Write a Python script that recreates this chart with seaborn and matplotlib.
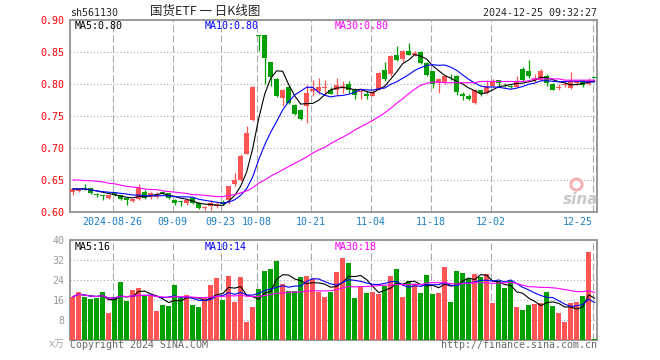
import numpy as np
import pandas as pd
import matplotlib
matplotlib.use("Agg")
import matplotlib.pyplot as plt
import seaborn as sns

W, H = 660, 360

# daily candles, index 0 = 2024-08-15 ... index 87 = 2024-12-25
opens = [0.632, 0.633, 0.637, 0.638, 0.628, 0.626, 0.622, 0.630, 0.626, 0.622,
         0.617, 0.620, 0.632, 0.624, 0.623, 0.632, 0.630, 0.619, 0.617, 0.614,
         0.622, 0.614, 0.606, 0.609, 0.609, 0.616, 0.619, 0.643, 0.650, 0.691,
         0.743, 0.876, 0.876, 0.835, 0.808, 0.778, 0.795, 0.767, 0.760, 0.765,
         0.789, 0.789, 0.794, 0.790, 0.791, 0.795, 0.800, 0.791, 0.788, 0.784,
         0.782, 0.791, 0.822, 0.815, 0.846, 0.839, 0.852, 0.846, 0.850, 0.833,
         0.820, 0.802, 0.803, 0.813, 0.812, 0.785, 0.782, 0.771, 0.790, 0.786,
         0.797, 0.806, 0.799, 0.797, 0.796, 0.824, 0.821, 0.806, 0.807, 0.813,
         0.800, 0.793, 0.798, 0.794, 0.801, 0.806, 0.800, 0.810]
highs = [0.637, 0.636, 0.643, 0.638, 0.630, 0.626, 0.627, 0.631, 0.626, 0.622,
         0.621, 0.643, 0.634, 0.632, 0.632, 0.633, 0.630, 0.620, 0.617, 0.620,
         0.623, 0.615, 0.609, 0.619, 0.616, 0.619, 0.641, 0.661, 0.691, 0.735,
         0.797, 0.876, 0.876, 0.835, 0.809, 0.792, 0.798, 0.768, 0.761, 0.799,
         0.807, 0.809, 0.807, 0.795, 0.810, 0.805, 0.804, 0.793, 0.794, 0.789,
         0.791, 0.818, 0.835, 0.845, 0.860, 0.853, 0.864, 0.851, 0.851, 0.834,
         0.821, 0.809, 0.813, 0.815, 0.814, 0.788, 0.785, 0.792, 0.791, 0.807,
         0.808, 0.807, 0.801, 0.798, 0.812, 0.826, 0.838, 0.816, 0.823, 0.815,
         0.802, 0.800, 0.804, 0.818, 0.806, 0.807, 0.809, 0.810]
lows = [0.627, 0.631, 0.634, 0.628, 0.624, 0.619, 0.620, 0.625, 0.619, 0.611,
        0.615, 0.619, 0.620, 0.620, 0.622, 0.628, 0.620, 0.611, 0.609, 0.611,
        0.612, 0.605, 0.603, 0.603, 0.607, 0.611, 0.612, 0.641, 0.649, 0.690,
        0.742, 0.852, 0.800, 0.797, 0.780, 0.765, 0.768, 0.752, 0.744, 0.739,
        0.781, 0.785, 0.785, 0.784, 0.783, 0.786, 0.786, 0.777, 0.777, 0.776,
        0.781, 0.790, 0.804, 0.812, 0.836, 0.834, 0.845, 0.843, 0.831, 0.812,
        0.793, 0.786, 0.800, 0.807, 0.783, 0.775, 0.775, 0.768, 0.781, 0.784,
        0.795, 0.797, 0.796, 0.794, 0.795, 0.804, 0.810, 0.803, 0.804, 0.797,
        0.790, 0.791, 0.795, 0.792, 0.799, 0.796, 0.799, 0.809]
closes = [0.636, 0.636, 0.636, 0.630, 0.627, 0.6255, 0.626, 0.626, 0.620, 0.618,
          0.620, 0.638, 0.622, 0.630, 0.627, 0.629, 0.622, 0.614, 0.616, 0.619,
          0.614, 0.606, 0.6065, 0.614, 0.612, 0.613, 0.640, 0.650, 0.687, 0.724,
          0.795, 0.875, 0.840, 0.811, 0.782, 0.791, 0.771, 0.753, 0.746, 0.786,
          0.792, 0.796, 0.796, 0.785, 0.799, 0.797, 0.790, 0.783, 0.789, 0.781,
          0.788, 0.817, 0.808, 0.844, 0.838, 0.852, 0.846, 0.849, 0.833, 0.814,
          0.800, 0.808, 0.812, 0.812, 0.787, 0.781, 0.777, 0.791, 0.786, 0.797,
          0.803, 0.802, 0.798, 0.796, 0.805, 0.806, 0.812, 0.809, 0.821, 0.801,
          0.791, 0.796, 0.800, 0.805, 0.804, 0.798, 0.807, 0.809]
# volume, 万
volumes = [17.3, 19.3, 17.3, 16.4, 16.7, 19.3, 10.9, 17.3, 23.3, 15.6,
           20.0, 20.9, 18.0, 17.7, 11.6, 14.0, 13.6, 22.0, 16.9, 18.0,
           14.0, 13.2, 16.7, 22.0, 24.9, 16.0, 25.6, 15.3, 25.1, 7.3,
           13.3, 20.4, 27.6, 28.5, 31.7, 22.4, 19.7, 19.7, 25.3, 25.6,
           24.4, 19.1, 17.3, 19.1, 27.3, 32.7, 30.9, 16.9, 21.3, 18.9,
           19.3, 18.4, 21.6, 25.7, 28.5, 17.3, 23.6, 22.4, 18.9, 26.0,
           18.4, 18.9, 29.3, 15.3, 27.6, 26.9, 24.7, 26.4, 25.1, 26.4,
           14.9, 23.6, 20.9, 23.6, 13.3, 12.0, 14.0, 14.4, 14.9, 19.3,
           13.7, 10.9, 7.3, 14.9, 15.1, 17.7, 35.3, 0.4]
# MA30 of price as drawn (needs history before the window)
ma30_price = [0.650, 0.650, 0.649, 0.649, 0.648, 0.647, 0.645, 0.644, 0.642, 0.640,
              0.639, 0.638, 0.636, 0.635, 0.635, 0.633, 0.632, 0.631, 0.630, 0.629,
              0.627, 0.627, 0.626, 0.625, 0.624, 0.624, 0.626, 0.627, 0.630, 0.633,
              0.638, 0.645, 0.650, 0.656, 0.661, 0.666, 0.671, 0.676, 0.681, 0.686,
              0.692, 0.697, 0.701, 0.707, 0.712, 0.717, 0.722, 0.728, 0.733, 0.738,
              0.743, 0.749, 0.755, 0.762, 0.770, 0.777, 0.785, 0.792, 0.798, 0.801,
              0.803, 0.803, 0.802, 0.802, 0.802, 0.802, 0.802, 0.802, 0.804, 0.804,
              0.804, 0.804, 0.804, 0.804, 0.804, 0.804, 0.805, 0.808, 0.808, 0.808,
              0.808, 0.808, 0.806, 0.806, 0.806, 0.806, 0.806, 0.806]

tick_idx = [7, 17, 25, 31, 40, 50, 60, 70, 87]
tick_labels = ['2024-08-26', '09-09', '09-23', '10-08', '10-21',
               '11-04', '11-18', '12-02', '12-25']
price_ticks = [0.60, 0.65, 0.70, 0.75, 0.80, 0.85, 0.90]
vol_ticks = [8, 16, 24, 32, 40]

RED = '#ff5555'
GREEN = '#00a000'
MA_COLORS = ['black', '#0000ff', '#ff00ff']
GRID = '#aaaaaa'
MONO = 7.2

sns.set_style('white')
plt.rcParams['font.family'] = ['DejaVu Sans Mono', 'Noto Sans CJK SC']

df = pd.DataFrame({'open': opens, 'high': highs, 'low': lows,
                   'close': closes, 'vol': volumes, 'ma30': ma30_price})
df['ma5'] = df['close'].rolling(5, min_periods=1).mean()
df['ma10'] = df['close'].rolling(10, min_periods=1).mean()
df['vma5'] = df['vol'].rolling(5, min_periods=1).mean()
df['vma10'] = df['vol'].rolling(10, min_periods=1).mean()
df['vma30'] = df['vol'].rolling(30, min_periods=1).mean()
df['i'] = np.arange(len(df))
colors = np.where(df['close'] >= df['open'], RED, GREEN)

fig = plt.figure(figsize=(W / 100, H / 100), dpi=100)
ax = fig.add_axes([70 / W, 1 - 212 / H, 527 / W, 192 / H])
vax = fig.add_axes([70 / W, 1 - 340 / H, 527 / W, 100 / H])

xlim = (-0.45, 87.38)
grid_x = [t - 0.35 for t in tick_idx]


def style_axes(a):
    a.set_xlim(*xlim)
    a.set_axisbelow(True)
    for s in a.spines.values():
        s.set_color('#999999')
        s.set_linewidth(1.4)
    a.grid(axis='x', color=GRID, linestyle=(0, (6.3, 2.7)), linewidth=0.8)
    a.grid(axis='y', color=GRID, linestyle=(0, (1, 2)), linewidth=0.8)
    a.tick_params(length=0, labelsize=MONO)


# price panel
body = (df['close'] - df['open']).abs().clip(lower=0.0012)
ax.vlines(df['i'], df['low'], df['high'], colors=colors, linewidth=0.9, zorder=3)
ax.bar(df['i'], body, bottom=np.minimum(df['open'], df['close']),
       width=0.78, color=colors, linewidth=0, zorder=3)
for col, c in zip(['ma5', 'ma10', 'ma30'], MA_COLORS):
    sns.lineplot(data=df, x='i', y=col, ax=ax, color=c, linewidth=0.8,
                 legend=False, zorder=4)
ax.set_ylim(0.60, 0.90)
ax.set_yticks(price_ticks, [f'{v:.2f}' for v in price_ticks])
ax.set_xticks(grid_x, tick_labels)
style_axes(ax)
ax.tick_params(axis='y', labelcolor='#ff0000', pad=4)
ax.tick_params(axis='x', labelcolor='#1a7fc8', pad=3.5)
ax.get_xticklabels()[-1].set_ha('right')
ax.set_xlabel('')
ax.set_ylabel('')

# volume panel
vax.bar(df['i'], df['vol'], width=0.85, color=colors, linewidth=0, zorder=3)
for col, c in zip(['vma5', 'vma10', 'vma30'], MA_COLORS):
    sns.lineplot(data=df, x='i', y=col, ax=vax, color=c, linewidth=0.8,
                 legend=False, zorder=4)
vax.set_ylim(0, 40)
vax.set_yticks(vol_ticks, [str(v) for v in vol_ticks])
vax.set_xticks(grid_x, [''] * len(grid_x))
style_axes(vax)
vax.tick_params(axis='y', labelcolor='#999999', pad=4)
vax.set_xlabel('')
vax.set_ylabel('')


def ftext(x, y, s, **kw):
    kw.setdefault('fontsize', MONO)
    fig.text(x / W, 1 - y / H, s, va='center', **kw)


ftext(70, 13.5, 'sh561130')
ftext(150, 11.5, '国货ETF 一 日K线图', fontsize=9,
      family=['Noto Sans CJK SC', 'DejaVu Sans'])
ftext(597, 13, '2024-12-25 09:32:27', ha='right')

ftext(75, 26, 'MA5:0.80', color=MA_COLORS[0])
ftext(205, 26, 'MA10:0.80', color=MA_COLORS[1])
ftext(335, 26, 'MA30:0.80', color=MA_COLORS[2])

ftext(75, 247, 'MA5:16', color=MA_COLORS[0])
ftext(205, 247, 'MA10:14', color=MA_COLORS[1])
ftext(335, 247, 'MA30:18', color=MA_COLORS[2])

ftext(65, 344, 'x万', ha='right', color='#aaaaaa')
ftext(70, 345, 'Copyright 2024 SINA.COM', color='#666666')
ftext(597, 345, 'http://finance.sina.com.cn', ha='right', color='#666666')

# sina watermark
ax.plot([576 / W], [1 - 184 / H], marker='o', markersize=8, mfc='none',
        mec='#f4b4b4', mew=2.2, transform=fig.transFigure, clip_on=False)
ftext(581, 199, 'sina', ha='center', fontsize=11, style='italic',
      weight='bold', color='#c8c8c8', family=['DejaVu Sans'])

fig.savefig('out.png', dpi=100)
